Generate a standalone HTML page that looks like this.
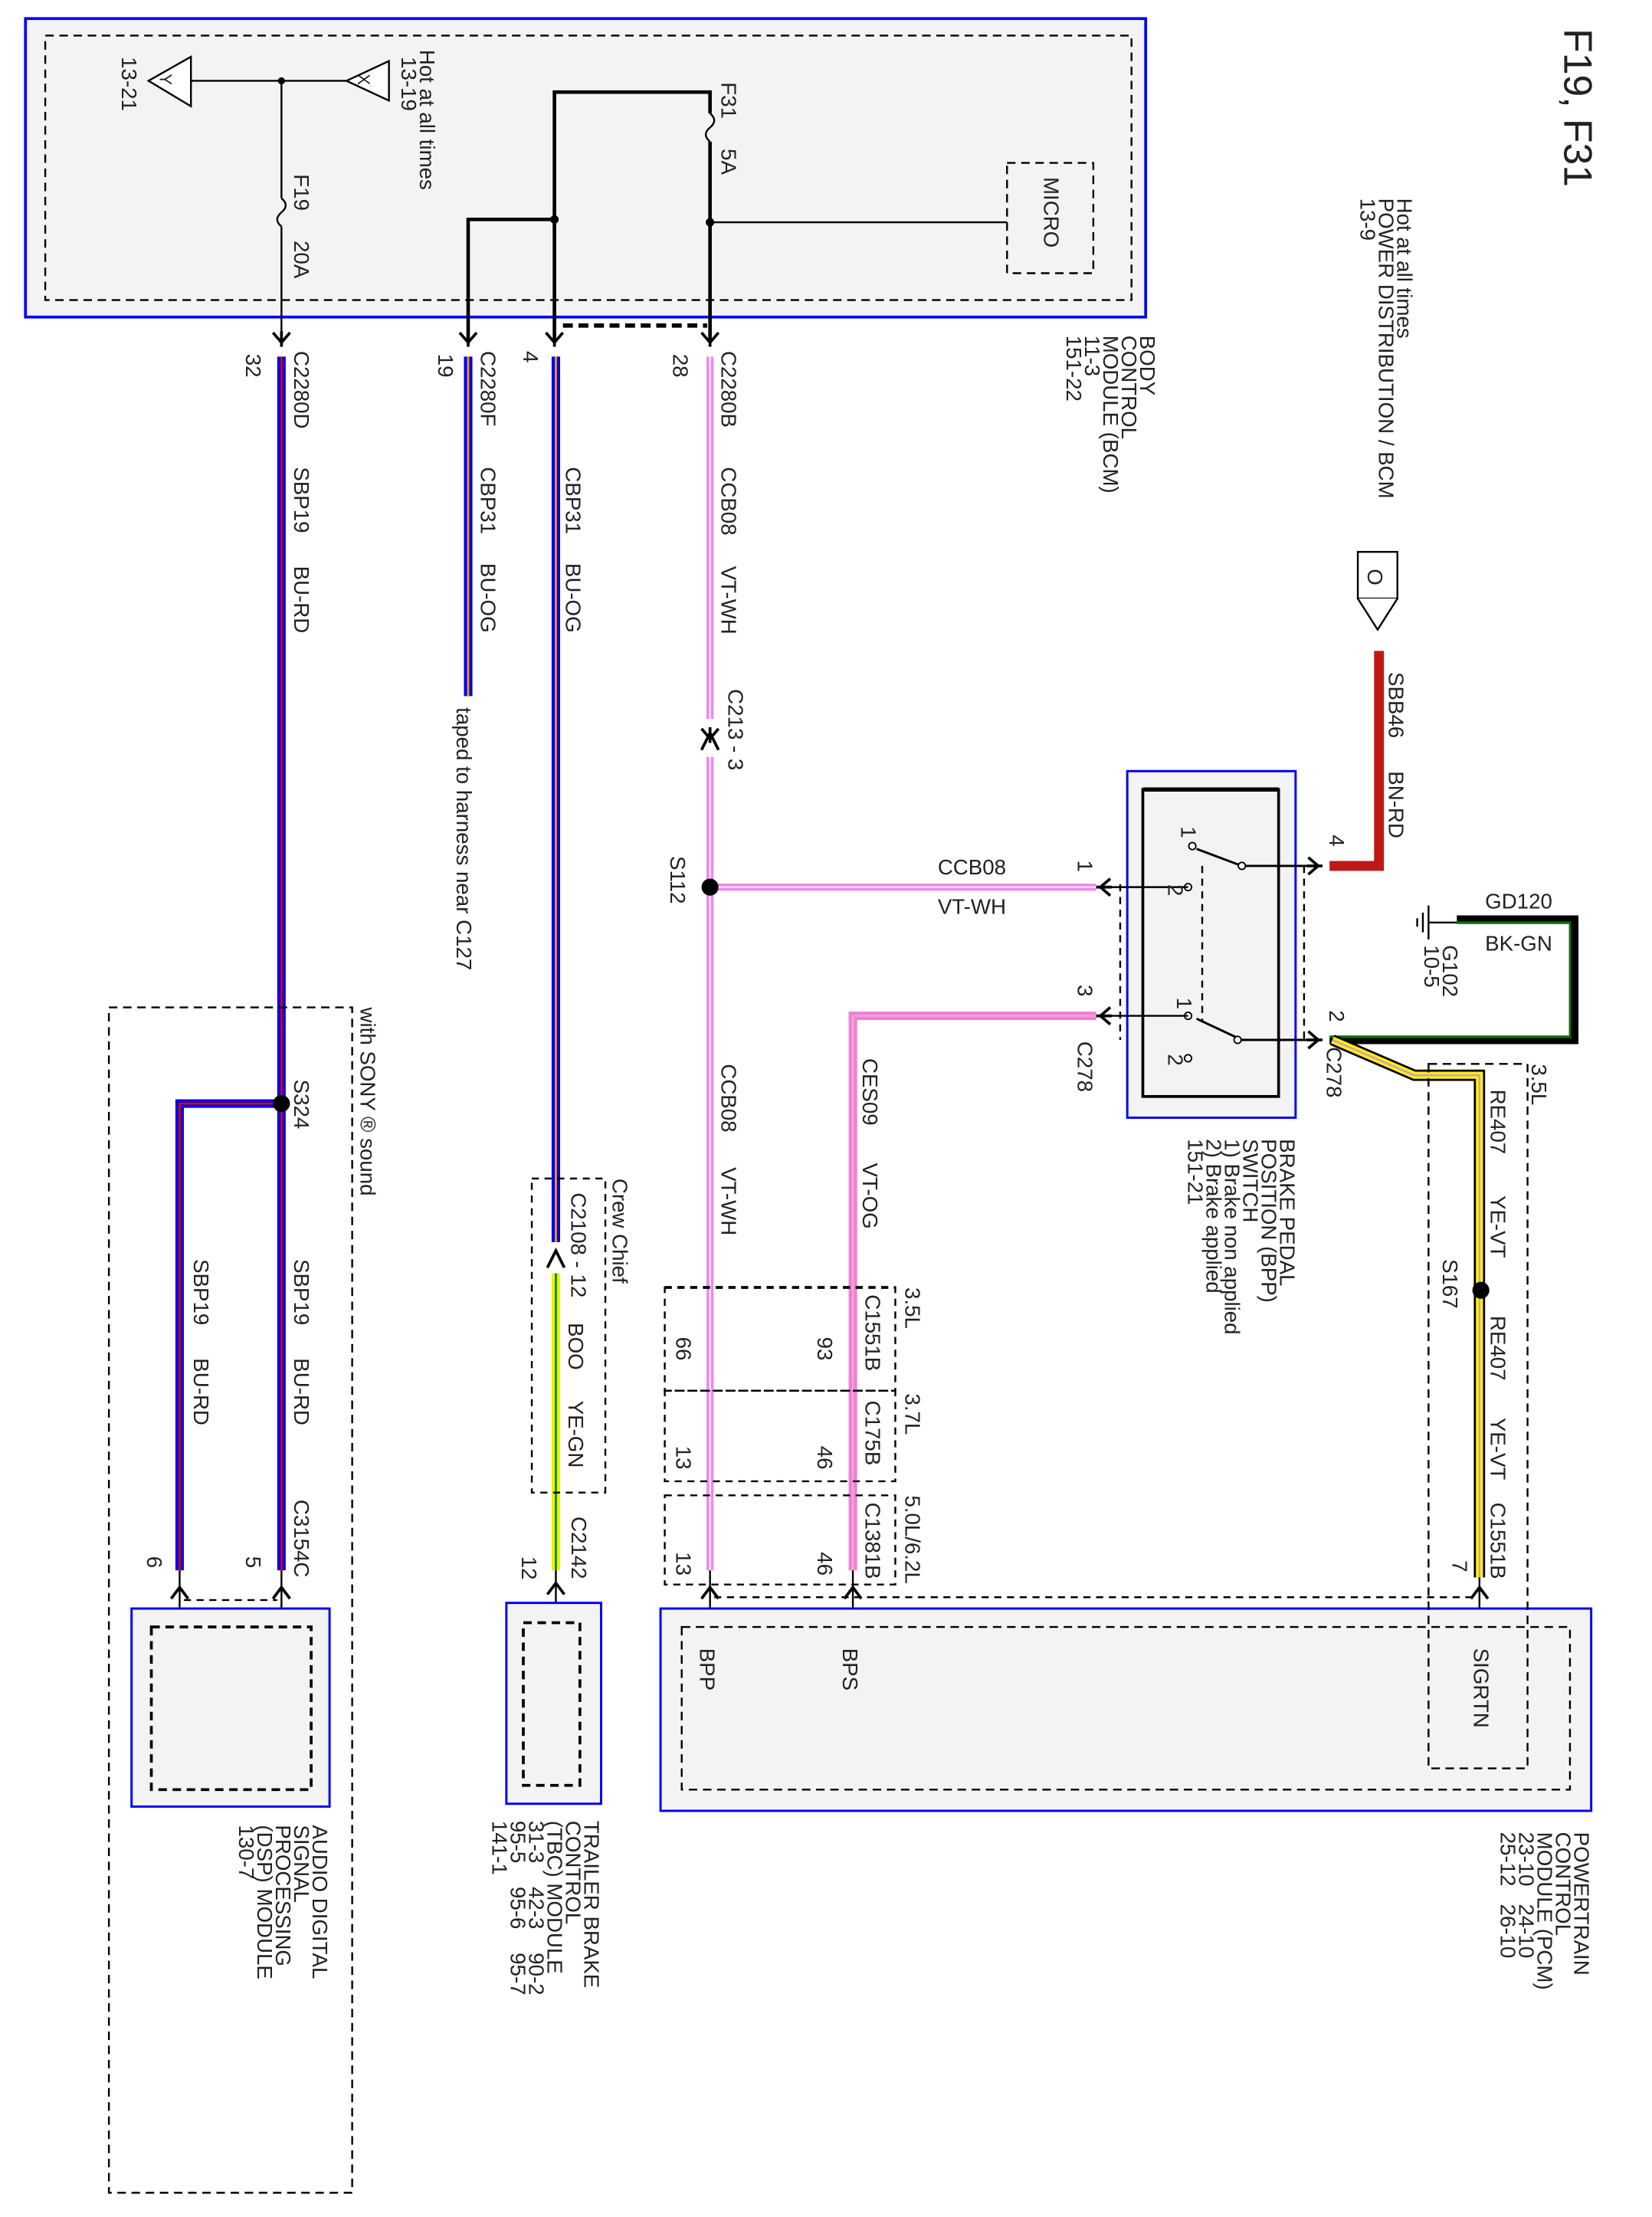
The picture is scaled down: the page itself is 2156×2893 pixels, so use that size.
<!DOCTYPE html>
<html><head><meta charset="utf-8"><style>
html,body{margin:0;padding:0;background:#fff}
svg{display:block}
text{font-family:"Liberation Sans",sans-serif;font-size:15px;fill:#222}
</style></head><body>
<svg width="2156" height="2893" viewBox="0 0 1168 1567" xmlns="http://www.w3.org/2000/svg">
<defs>
<g id="chev"><path d="M-6,-7 L0,0 L6,-7 M0,-8 L0,3" fill="none" stroke="#000" stroke-width="2"/></g>
<g id="chevr"><path d="M-7,-6 L0,0 L-7,6 M-8,0 L3,0" fill="none" stroke="#000" stroke-width="2"/></g>
<g id="chevl"><path d="M7,-6 L0,0 L7,6 M8,0 L-3,0" fill="none" stroke="#000" stroke-width="2"/></g>
</defs>
<rect width="1168" height="1567" fill="#fff"/>

<!-- BCM -->
<rect x="18" y="13" width="792" height="211" fill="#f3f3f3" stroke="#0000ff" stroke-width="2"/>
<rect x="32" y="25" width="768" height="187" fill="none" stroke="#000" stroke-width="1.3" stroke-dasharray="6,4"/>
<polygon points="105,57 135,40 135,75" fill="#fff" stroke="#000" stroke-width="1.3"/>
<polygon points="245,57 275,43 275,71" fill="#fff" stroke="#000" stroke-width="1.3"/>
<text x="113" y="52" transform="rotate(90,113,52)" style="font-size:12px">Y</text>
<text x="253" y="52" transform="rotate(90,253,52)" style="font-size:12px">X</text>
<line x1="135" y1="57" x2="245" y2="57" stroke="#000" stroke-width="1.3"/>
<circle cx="199" cy="57" r="2.5"/>
<path d="M199,57 V140 M199,160 V240" stroke="#000" stroke-width="1.3" fill="none"/>
<path d="M199,140 q6,5 0,10 q-6,5 0,10" stroke="#000" stroke-width="1.3" fill="none"/>
<text x="86" y="40" transform="rotate(90,86,40)">13-21</text>
<text x="297" y="35" transform="rotate(90,297,35)">Hot at all times</text>
<text x="284" y="40" transform="rotate(90,284,40)">13-19</text>
<text x="208" y="123" transform="rotate(90,208,123)">F19</text>
<text x="208" y="170" transform="rotate(90,208,170)">20A</text>
<path d="M392,240 V65 H502 V80 M502,100 V240" stroke="#000" stroke-width="2.5" fill="none"/>
<path d="M502,80 q6,5 0,10 q-6,5 0,10" stroke="#000" stroke-width="1.3" fill="none"/>
<path d="M331,240 V155 H392" stroke="#000" stroke-width="2.5" fill="none"/>
<circle cx="392" cy="155" r="3"/>
<circle cx="502" cy="157" r="3"/>
<line x1="502" y1="157" x2="712" y2="157" stroke="#000" stroke-width="1.3"/>
<rect x="712" y="115" width="61" height="78" fill="none" stroke="#000" stroke-width="1.3" stroke-dasharray="6,4"/>
<text x="738" y="125" transform="rotate(90,738,125)">MICRO</text>
<text x="510" y="58" transform="rotate(90,510,58)">F31</text>
<text x="510" y="105" transform="rotate(90,510,105)">5A</text>
<line x1="398" y1="230" x2="500" y2="230" stroke="#000" stroke-width="3" stroke-dasharray="7,4"/>
<use href="#chev" x="199" y="242"/><use href="#chev" x="331" y="242"/><use href="#chev" x="392" y="242"/><use href="#chev" x="502" y="242"/>

<text x="1106" y="20" transform="rotate(90,1106,20)" style="font-size:28px">F19, F31</text>
<text x="988" y="140" transform="rotate(90,988,140)">Hot at all times</text>
<text x="975" y="140" transform="rotate(90,975,140)">POWER DISTRIBUTION / BCM</text>
<text x="962" y="140" transform="rotate(90,962,140)">13-9</text>
<text x="806" y="237" transform="rotate(90,806,237)">BODY</text>
<text x="793" y="237" transform="rotate(90,793,237)">CONTROL</text>
<text x="780" y="237" transform="rotate(90,780,237)">MODULE (BCM)</text>
<text x="767" y="237" transform="rotate(90,767,237)">11-3</text>
<text x="754" y="237" transform="rotate(90,754,237)">151-22</text>

<!-- wires from BCM -->
<line x1="199" y1="252" x2="199" y2="1110" stroke="#0000ee" stroke-width="6"/>
<line x1="199" y1="252" x2="199" y2="1110" stroke="#d00" stroke-width="1.5"/>
<line x1="331" y1="252" x2="331" y2="492" stroke="#0000ee" stroke-width="6"/>
<line x1="331" y1="252" x2="331" y2="492" stroke="#f90" stroke-width="1.5"/>
<line x1="393" y1="252" x2="393" y2="878" stroke="#0000ee" stroke-width="6"/>
<line x1="393" y1="252" x2="393" y2="878" stroke="#f90" stroke-width="1.5"/>
<line x1="393" y1="900" x2="393" y2="1110" stroke="#f0f000" stroke-width="6"/>
<line x1="393" y1="900" x2="393" y2="1110" stroke="#080" stroke-width="1.5"/>
<line x1="502" y1="252" x2="502" y2="508" stroke="#ee88ee" stroke-width="5"/>
<line x1="502" y1="535" x2="502" y2="1110" stroke="#ee88ee" stroke-width="5"/>
<line x1="502" y1="252" x2="502" y2="1110" stroke="#fff" stroke-width="1"/>
<use href="#chev" x="502" y="522"/>
<path d="M496,530 L502,518 L508,530" fill="none" stroke="#000" stroke-width="2"/>
<line x1="502" y1="627" x2="775" y2="627" stroke="#ee88ee" stroke-width="5"/>
<line x1="502" y1="627" x2="775" y2="627" stroke="#fff" stroke-width="1"/>
<circle cx="502" cy="627" r="6"/>
<path d="M775,718 H603 V1110" fill="none" stroke="#f080d0" stroke-width="6"/>
<path d="M775,718 H603 V1110" fill="none" stroke="#f5a0e0" stroke-width="1.5"/>

<text x="208" y="248" transform="rotate(90,208,248)">C2280D</text>
<text x="174" y="250" transform="rotate(90,174,250)">32</text>
<text x="208" y="330" transform="rotate(90,208,330)">SBP19</text>
<text x="208" y="400" transform="rotate(90,208,400)">BU-RD</text>
<text x="340" y="248" transform="rotate(90,340,248)">C2280F</text>
<text x="310" y="250" transform="rotate(90,310,250)">19</text>
<text x="340" y="330" transform="rotate(90,340,330)">CBP31</text>
<text x="340" y="398" transform="rotate(90,340,398)">BU-OG</text>
<text x="323" y="500" transform="rotate(90,323,500)">taped to harness near C127</text>
<text x="370" y="248" transform="rotate(90,370,248)">4</text>
<text x="400" y="330" transform="rotate(90,400,330)">CBP31</text>
<text x="400" y="398" transform="rotate(90,400,398)">BU-OG</text>
<text x="510" y="248" transform="rotate(90,510,248)">C2280B</text>
<text x="476" y="250" transform="rotate(90,476,250)">28</text>
<text x="510" y="330" transform="rotate(90,510,330)">CCB08</text>
<text x="510" y="400" transform="rotate(90,510,400)">VT-WH</text>
<text x="515" y="487" transform="rotate(90,515,487)">C213 - 3</text>
<text x="474" y="605" transform="rotate(90,474,605)">S112</text>
<text x="510" y="752" transform="rotate(90,510,752)">CCB08</text>
<text x="510" y="825" transform="rotate(90,510,825)">VT-WH</text>
<text x="610" y="748" transform="rotate(90,610,748)">CES09</text>
<text x="610" y="822" transform="rotate(90,610,822)">VT-OG</text>
<text x="663" y="618">CCB08</text>
<text x="663" y="646">VT-WH</text>

<!-- Power in -->
<rect x="960" y="390" width="28" height="33" fill="#fff" stroke="#000" stroke-width="1.3"/>
<path d="M960,423 L974,445 L988,423" fill="#fff" stroke="#000" stroke-width="1.3"/>
<text x="967" y="402" transform="rotate(90,967,402)">O</text>
<path d="M975,460 V612 H940" fill="none" stroke="#c01818" stroke-width="7"/>
<text x="982" y="475" transform="rotate(90,982,475)">SBB46</text>
<text x="982" y="545" transform="rotate(90,982,545)">BN-RD</text>
<text x="940" y="590" transform="rotate(90,940,590)">4</text>

<!-- BPP switch -->
<rect x="797" y="545" width="119" height="245" fill="#f3f3f3" stroke="#0000ff" stroke-width="1.6"/>
<rect x="808" y="558" width="96" height="217" fill="none" stroke="#000" stroke-width="2"/>
<line x1="808" y1="558" x2="904" y2="558" stroke="#000" stroke-width="3"/>
<path d="M792,625 V735 M922,612 V735" fill="none" stroke="#000" stroke-width="1.3" stroke-dasharray="5,4"/>
<path d="M846,600 L878,612 H930 M846,720 L878,735 H930" fill="none" stroke="#000" stroke-width="1.6"/>
<path d="M850,612 V722" stroke="#000" stroke-width="1.3" stroke-dasharray="5,4"/>
<circle cx="843" cy="598" r="2.5" fill="#fff" stroke="#000"/><circle cx="878" cy="612" r="2.5" fill="#fff" stroke="#000"/>
<circle cx="840" cy="627" r="2.5" fill="#fff" stroke="#000"/><circle cx="840" cy="718" r="2.5" fill="#fff" stroke="#000"/>
<circle cx="875" cy="735" r="2.5" fill="#fff" stroke="#000"/><circle cx="840" cy="748" r="2.5" fill="#fff" stroke="#000"/>
<line x1="780" y1="627" x2="840" y2="627" stroke="#000" stroke-width="1.3"/>
<line x1="780" y1="718" x2="840" y2="718" stroke="#000" stroke-width="1.3"/>
<use href="#chevr" x="932" y="612"/><use href="#chevr" x="932" y="735"/>
<use href="#chevl" x="778" y="627"/><use href="#chevl" x="778" y="718"/>
<text x="835" y="584" transform="rotate(90,835,584)">1</text>
<text x="826" y="625" transform="rotate(90,826,625)">2</text>
<text x="832" y="705" transform="rotate(90,832,705)">1</text>
<text x="826" y="745" transform="rotate(90,826,745)">2</text>
<text x="762" y="608" transform="rotate(90,762,608)">1</text>
<text x="762" y="696" transform="rotate(90,762,696)">3</text>
<text x="762" y="736" transform="rotate(90,762,736)">C278</text>
<text x="940" y="714" transform="rotate(90,940,714)">2</text>
<text x="938" y="740" transform="rotate(90,938,740)">C278</text>
<text x="905" y="805" transform="rotate(90,905,805)">BRAKE PEDAL</text>
<text x="892" y="805" transform="rotate(90,892,805)">POSITION (BPP)</text>
<text x="879" y="805" transform="rotate(90,879,805)">SWITCH</text>
<text x="866" y="805" transform="rotate(90,866,805)">1) Brake non applied</text>
<text x="853" y="805" transform="rotate(90,853,805)">2) Brake applied</text>
<text x="840" y="805" transform="rotate(90,840,805)">151-21</text>

<!-- Ground -->
<path d="M940,735 H1113 V650 H1030" fill="none" stroke="#000" stroke-width="6"/>
<path d="M940,733 H1110 V652 H1030" fill="none" stroke="#070" stroke-width="1.5"/>
<line x1="1010" y1="652" x2="1030" y2="652" stroke="#000" stroke-width="1.3"/>
<path d="M1010,640 V664 M1006,645 V659 M1002,649 V655" stroke="#000" stroke-width="1.3"/>
<text x="1050" y="642">GD120</text>
<text x="1050" y="672">BK-GN</text>
<text x="1020" y="668" transform="rotate(90,1020,668)">G102</text>
<text x="1007" y="668" transform="rotate(90,1007,668)">10-5</text>

<!-- yellow wire -->
<path d="M942,735 L1000,760 H1046 V1115" fill="none" stroke="#000" stroke-width="8"/>
<path d="M942,735 L1000,760 H1046 V1115" fill="none" stroke="#f5f500" stroke-width="5"/>
<path d="M942,735 L1000,760 H1046 V1115" fill="none" stroke="#e090e0" stroke-width="1.3"/>
<circle cx="1047" cy="912" r="6"/>
<text x="1083" y="752" transform="rotate(90,1083,752)">3.5L</text>
<text x="1054" y="770" transform="rotate(90,1054,770)">RE407</text>
<text x="1054" y="845" transform="rotate(90,1054,845)">YE-VT</text>
<text x="1020" y="890" transform="rotate(90,1020,890)">S167</text>
<text x="1054" y="930" transform="rotate(90,1054,930)">RE407</text>
<text x="1054" y="1002" transform="rotate(90,1054,1002)">YE-VT</text>
<text x="1054" y="1062" transform="rotate(90,1054,1062)">C1551B</text>
<text x="1027" y="1103" transform="rotate(90,1027,1103)">7</text>

<!-- PCM -->
<rect x="467" y="1137" width="658" height="143" fill="#f3f3f3" stroke="#0000ff" stroke-width="1.6"/>
<rect x="482" y="1150" width="628" height="115" fill="none" stroke="#000" stroke-width="1.3" stroke-dasharray="6,4"/>
<rect x="1010" y="752" width="70" height="498" fill="none" stroke="#000" stroke-width="1.3" stroke-dasharray="6,4"/>
<line x1="1046" y1="1115" x2="1046" y2="1137" stroke="#000" stroke-width="1.3"/>
<line x1="502" y1="1110" x2="502" y2="1137" stroke="#000" stroke-width="1.3"/>
<line x1="603" y1="1110" x2="603" y2="1137" stroke="#000" stroke-width="1.3"/>
<path d="M496,1130 L502,1122 L508,1130 M597,1130 L603,1122 L609,1130 M1040,1130 L1046,1122 L1052,1130" fill="none" stroke="#000" stroke-width="2"/>
<line x1="505" y1="1129" x2="1043" y2="1129" stroke="#000" stroke-width="1.3" stroke-dasharray="5,4"/>
<text x="1042" y="1165" transform="rotate(90,1042,1165)">SIGRTN</text>
<text x="495" y="1165" transform="rotate(90,495,1165)">BPP</text>
<text x="596" y="1165" transform="rotate(90,596,1165)">BPS</text>
<text x="1113" y="1295" transform="rotate(90,1113,1295)">POWERTRAIN</text>
<text x="1100" y="1295" transform="rotate(90,1100,1295)">CONTROL</text>
<text x="1087" y="1295" transform="rotate(90,1087,1295)">MODULE (PCM)</text>
<text x="1074" y="1295" transform="rotate(90,1074,1295)" xml:space="preserve">23-10   24-10</text>
<text x="1061" y="1295" transform="rotate(90,1061,1295)" xml:space="preserve">25-12   26-10</text>

<!-- engine connector boxes -->
<g fill="none" stroke="#000" stroke-width="1.3" stroke-dasharray="5,4">
<rect x="470" y="910" width="163" height="73"/>
<rect x="470" y="983" width="163" height="64"/>
<rect x="470" y="1057" width="163" height="63"/>
</g>
<line x1="470" y1="910" x2="633" y2="910" stroke="#000" stroke-width="2" stroke-dasharray="5,4"/>
<text x="640" y="910" transform="rotate(90,640,910)">3.5L</text>
<text x="612" y="915" transform="rotate(90,612,915)">C1551B</text>
<text x="578" y="945" transform="rotate(90,578,945)">93</text>
<text x="478" y="945" transform="rotate(90,478,945)">66</text>
<text x="640" y="985" transform="rotate(90,640,985)">3.7L</text>
<text x="612" y="990" transform="rotate(90,612,990)">C175B</text>
<text x="578" y="1022" transform="rotate(90,578,1022)">46</text>
<text x="478" y="1022" transform="rotate(90,478,1022)">13</text>
<text x="640" y="1057" transform="rotate(90,640,1057)">5.0L/6.2L</text>
<text x="612" y="1062" transform="rotate(90,612,1062)">C1381B</text>
<text x="578" y="1097" transform="rotate(90,578,1097)">46</text>
<text x="478" y="1097" transform="rotate(90,478,1097)">13</text>

<!-- Crew chief / TBC -->
<rect x="376" y="833" width="52" height="222" fill="none" stroke="#000" stroke-width="1.3" stroke-dasharray="5,4"/>
<path d="M387,896 L393,884 L399,896" fill="none" stroke="#000" stroke-width="2"/>
<text x="433" y="833" transform="rotate(90,433,833)">Crew Chief</text>
<text x="404" y="843" transform="rotate(90,404,843)">C2108 - 12</text>
<text x="402" y="935" transform="rotate(90,402,935)">BOO</text>
<text x="402" y="990" transform="rotate(90,402,990)">YE-GN</text>
<text x="404" y="1072" transform="rotate(90,404,1072)">C2142</text>
<text x="369" y="1100" transform="rotate(90,369,1100)">12</text>
<rect x="358" y="1133" width="67" height="142" fill="#f3f3f3" stroke="#0000ff" stroke-width="1.6"/>
<rect x="370" y="1147" width="40" height="115" fill="none" stroke="#000" stroke-width="2" stroke-dasharray="6,4"/>
<line x1="393" y1="1110" x2="393" y2="1133" stroke="#000" stroke-width="1.3"/>
<path d="M387,1127 L393,1119 L399,1127" fill="none" stroke="#000" stroke-width="2"/>
<text x="413" y="1287" transform="rotate(90,413,1287)">TRAILER BRAKE</text>
<text x="400" y="1287" transform="rotate(90,400,1287)">CONTROL</text>
<text x="387" y="1287" transform="rotate(90,387,1287)">(TBC) MODULE</text>
<text x="374" y="1287" transform="rotate(90,374,1287)" xml:space="preserve">31-3    42-3    90-2</text>
<text x="361" y="1287" transform="rotate(90,361,1287)" xml:space="preserve">95-5    95-6    95-7</text>
<text x="348" y="1287" transform="rotate(90,348,1287)">141-1</text>

<!-- SONY -->
<rect x="77" y="712" width="172" height="838" fill="none" stroke="#000" stroke-width="1.3" stroke-dasharray="6,4"/>
<path d="M199,780 H127 V1110" fill="none" stroke="#0000ee" stroke-width="6"/>
<path d="M199,780 H127 V1110" fill="none" stroke="#d00" stroke-width="1.5"/>
<circle cx="199" cy="780" r="6"/>
<text x="255" y="712" transform="rotate(90,255,712)">with SONY ® sound</text>
<text x="208" y="763" transform="rotate(90,208,763)">S324</text>
<text x="208" y="890" transform="rotate(90,208,890)">SBP19</text>
<text x="208" y="960" transform="rotate(90,208,960)">BU-RD</text>
<text x="137" y="890" transform="rotate(90,137,890)">SBP19</text>
<text x="137" y="960" transform="rotate(90,137,960)">BU-RD</text>
<text x="208" y="1060" transform="rotate(90,208,1060)">C3154C</text>
<text x="174" y="1100" transform="rotate(90,174,1100)">5</text>
<text x="104" y="1100" transform="rotate(90,104,1100)">6</text>
<rect x="93" y="1137" width="140" height="140" fill="#f3f3f3" stroke="#0000ff" stroke-width="1.6"/>
<rect x="107" y="1150" width="113" height="115" fill="none" stroke="#000" stroke-width="2" stroke-dasharray="6,4"/>
<line x1="199" y1="1110" x2="199" y2="1137" stroke="#000" stroke-width="1.3"/>
<line x1="127" y1="1110" x2="127" y2="1137" stroke="#000" stroke-width="1.3"/>
<line x1="130" y1="1131" x2="196" y2="1131" stroke="#000" stroke-width="1.3" stroke-dasharray="5,4"/>
<path d="M193,1130 L199,1122 L205,1130 M121,1130 L127,1122 L133,1130" fill="none" stroke="#000" stroke-width="2"/>
<text x="221" y="1290" transform="rotate(90,221,1290)">AUDIO DIGITAL</text>
<text x="208" y="1290" transform="rotate(90,208,1290)">SIGNAL</text>
<text x="195" y="1290" transform="rotate(90,195,1290)">PROCESSING</text>
<text x="182" y="1290" transform="rotate(90,182,1290)">(DSP) MODULE</text>
<text x="169" y="1290" transform="rotate(90,169,1290)">130-7</text>
</svg>
</body></html>
